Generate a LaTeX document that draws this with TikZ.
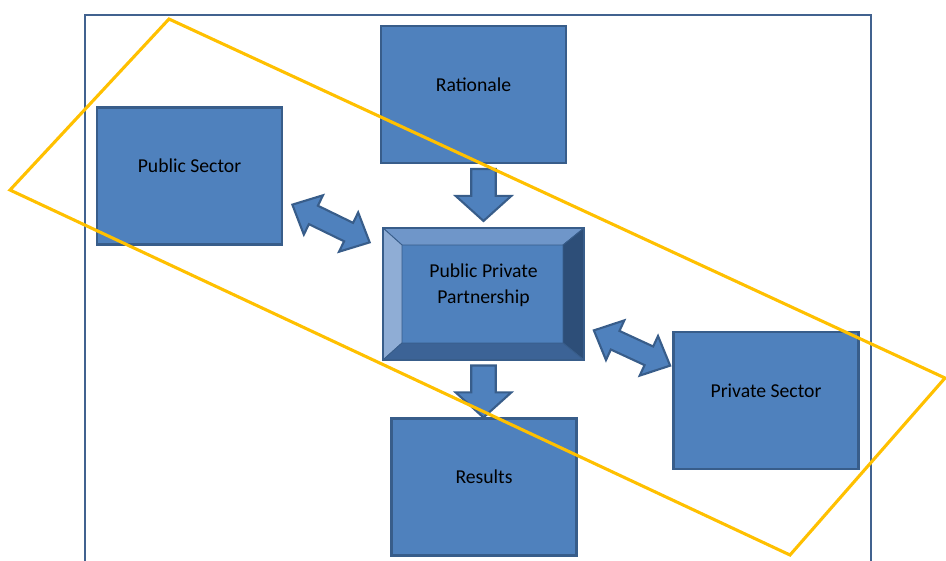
\documentclass[tikz,border=0pt]{standalone}
\usepackage{fontspec}
\setmainfont{Carlito}
\usetikzlibrary{calc,shapes.arrows}

\definecolor{boxfill}{HTML}{4F81BD}
\definecolor{boxline}{HTML}{385D8A}
\definecolor{framecol}{HTML}{41628F}
\definecolor{ringcol}{HTML}{FFC000}
\definecolor{bevtop}{HTML}{6F96C9}
\definecolor{bevleft}{HTML}{8FADD5}
\definecolor{bevright}{HTML}{2D4E78}
\definecolor{bevbottom}{HTML}{3C6396}

\tikzset{
	box/.style={draw=boxline, fill=boxfill, line width=2pt, inner sep=0pt, outer sep=0pt,
		minimum width=4.625cm, minimum height=3.425cm,
		font=\fontsize{14}{17.8}\selectfont, text height=0.3cm, text depth=0.475cm},
	downarrow/.style={single arrow, draw=boxline, fill=boxfill, line width=1.5pt,
		inner xsep=0pt, inner ysep=0.28cm, outer sep=0pt,
		rotate=-90, minimum height=1.3cm, minimum width=1.35cm,
		single arrow head extend=0.39cm, single arrow tip angle=96, anchor=tip},
	bothways/.style={double arrow, draw=boxline, fill=boxfill, line width=1.5pt,
		inner xsep=0pt, inner ysep=0.23cm,
		minimum width=1.05cm, double arrow head extend=0.29cm, double arrow tip angle=86},
	bevel/.style={draw=boxline, line width=0.6pt, line join=round}
}

\begin{document}
\begin{tikzpicture}[x=0.025cm, y=-0.025cm]
	\clip (0,0) rectangle (946,560);
	
	%%%%% frame %%%%%
	\draw[framecol, line width=1.8pt] (85,580) -- (85,15) -- (871,15) -- (871,580);
	
	%%%%% boxes %%%%%
	\node[box] (rat) at (473.5,94.5) {Rationale};
	\node[box] (pub) at (189.5,176) {Public Sector};
	\node[box] (priv) at (766,400.5) {Private Sector};
	\node[box] (res) at (484,487) {Results};
	\node[box, minimum width=5.025cm, minimum height=3.3cm, align=center,
		text height=1.0cm, text depth=0.55cm] (ppp) at (483.5,294) {Public Private\\Partnership};
	
	% bevel of the middle box
	\coordinate (inw) at ($(ppp.north west)+(19,17)$);
	\coordinate (ine) at ($(ppp.north east)+(-21,17)$);
	\coordinate (ise) at ($(ppp.south east)+(-21,-17)$);
	\coordinate (isw) at ($(ppp.south west)+(19,-17)$);
	\filldraw[bevel, fill=bevtop] (ppp.north west) -- (ppp.north east) -- (ine) -- (inw) -- cycle;
	\filldraw[bevel, fill=bevleft] (ppp.north west) -- (inw) -- (isw) -- (ppp.south west) -- cycle;
	\filldraw[bevel, fill=bevright] (ppp.north east) -- (ppp.south east) -- (ise) -- (ine) -- cycle;
	\filldraw[bevel, fill=bevbottom] (ppp.south west) -- (isw) -- (ise) -- (ppp.south east) -- cycle;
	\draw[boxline, line width=2pt] (ppp.north west) rectangle (ppp.south east);
	
	%%%%% arrows %%%%%
	\node[downarrow] (down1) at ($(ppp.north)+(0,-7)$) {};
	\node[downarrow] (down2) at ($(ppp.south |- res.north)+(0,-1)$) {};
	\node[bothways, rotate=-26, minimum height=2.15cm] (pubppp) at (331,223.5) {};
	\node[bothways, rotate=-24.8, minimum height=2.1cm] (ppppriv) at (632,348) {};
	
	%%%%% yellow ring %%%%%
	\draw[ringcol, line width=2.2pt, line join=miter] (169,19) -- (945,378) -- (790,555) -- (10,190) -- cycle;
\end{tikzpicture}
\end{document}
